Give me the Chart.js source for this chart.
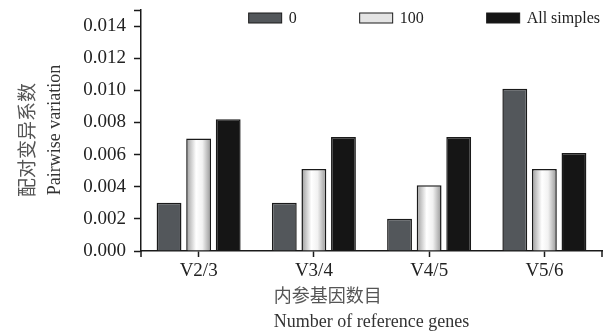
<!DOCTYPE html>
<html>
<head>
<meta charset="utf-8">
<script src="https://cdn.jsdelivr.net/npm/chart.js@4.4.1/dist/chart.umd.min.js"></script>
<style>
  html, body { margin: 0; padding: 0; background: #fff; }
  #wrap { width: 608px; height: 331px; position: relative; }
</style>
</head>
<body>
<div id="wrap"><canvas id="chart"></canvas></div>
<script>
  // Data
  const categories = ['V2/3', 'V3/4', 'V4/5', 'V5/6'];
  const seriesLabels = ['0', '100', 'All simples'];
  const values0 = [0.0030, 0.0030, 0.0020, 0.0101];
  const values100 = [0.0070, 0.0051, 0.0041, 0.0051];
  const valuesAll = [0.0082, 0.0071, 0.0071, 0.0061];
  const yMax = 0.015;
  const yTickValues = [0, 0.002, 0.004, 0.006, 0.008, 0.010, 0.012, 0.014, 0.015];
  const yTitle = ['配对变异系数', 'Pairwise variation'];
  const xTitle = ['内参基因数目', 'Number of reference genes'];

  const SERIF = '"Liberation Serif", "DejaVu Serif", serif';
  const CJK = '"Noto Sans CJK SC", sans-serif';
  const CAT_PCT = 0.77;
  const BAR_PCT = 0.84;

  // light cylinder-like shading for the "100" bars
  function whiteBarFill(ctx) {
    const chart = ctx.chart;
    const xs = chart.scales && chart.scales.x;
    if (!xs || ctx.dataIndex === undefined || !chart.chartArea) return '#ececec';
    const cx = xs.getPixelForValue(ctx.dataIndex);
    const w = xs.width / categories.length * CAT_PCT / 3 * BAR_PCT;
    const g = chart.ctx.createLinearGradient(cx - w / 2, 0, cx + w / 2, 0);
    g.addColorStop(0, '#9c9c9c');
    g.addColorStop(0.4, '#ffffff');
    g.addColorStop(0.65, '#f2f2f2');
    g.addColorStop(1, '#959595');
    return g;
  }

  const fills = ['#53575b', whiteBarFill, '#151515'];
  const legendFills = ['#53575b', '#e4e4e4', '#151515'];

  // legend + axis titles drawn by hand so they can sit where the figure has them
  const decorPlugin = {
    id: 'decor',
    afterDraw(chart) {
      const c = chart.ctx;
      const area = chart.chartArea;
      c.save();

      // end ticks on the x axis
      c.strokeStyle = '#1a1a1a';
      c.lineWidth = 1.5;
      c.beginPath();
      c.moveTo(area.left, area.bottom); c.lineTo(area.left, area.bottom + 6);
      c.moveTo(area.right, area.bottom); c.lineTo(area.right, area.bottom + 6);
      c.stroke();

      // legend
      c.font = '16px ' + SERIF;
      c.textBaseline = 'middle';
      const boxW = 33, boxH = 10, gap = 7, pad = 63;
      const widths = seriesLabels.map(t => boxW + gap + c.measureText(t).width);
      const total = widths.reduce((a, b) => a + b, 0) + pad * (widths.length - 1);
      let x = area.right - 2 - total;
      const y = 18;
      seriesLabels.forEach((t, i) => {
        c.fillStyle = legendFills[i];
        c.fillRect(x, y - boxH / 2, boxW, boxH);
        c.strokeStyle = '#1a1a1a';
        c.lineWidth = 1;
        c.strokeRect(x, y - boxH / 2, boxW, boxH);
        c.fillStyle = '#222';
        c.textAlign = 'left';
        c.fillText(t, x + boxW + gap, y + 1);
        x += widths[i] + pad;
      });

      // y title (rotated, two lines)
      c.save();
      c.translate(27, 140);
      c.rotate(-Math.PI / 2);
      c.textAlign = 'center';
      c.fillStyle = '#555';
      c.font = '19px ' + CJK;
      c.fillText(yTitle[0], 0, 0);
      c.restore();
      c.save();
      c.translate(55, 130);
      c.rotate(-Math.PI / 2);
      c.textAlign = 'center';
      c.fillStyle = '#333';
      c.font = '18px ' + SERIF;
      c.fillText(yTitle[1], 0, 0);
      c.restore();

      // x title (two lines, left edges lined up)
      c.font = '18px ' + SERIF;
      const enW = c.measureText(xTitle[1]).width;
      const cxm = (area.left + area.right) / 2;
      const left = cxm - enW / 2;
      c.textAlign = 'left';
      c.fillStyle = '#333';
      c.fillText(xTitle[1], left, 322);
      c.fillStyle = '#555';
      c.font = '18px ' + CJK;
      c.fillText(xTitle[0], left, 295);

      c.restore();
    }
  };

  const datasets = [values0, values100, valuesAll].map((vals, i) => ({
    label: seriesLabels[i],
    data: vals,
    backgroundColor: fills[i],
    borderColor: '#1a1a1a',
    borderWidth: 1.5,
    categoryPercentage: CAT_PCT,
    barPercentage: BAR_PCT
  }));

  new Chart(document.getElementById('chart'), {
    type: 'bar',
    data: { labels: categories, datasets: datasets },
    plugins: [decorPlugin],
    options: {
      responsive: true,
      maintainAspectRatio: false,
      animation: false,
      layout: { padding: { top: 10, right: 6, left: 0, bottom: 0 } },
      plugins: {
        legend: { display: false },
        tooltip: { enabled: false }
      },
      scales: {
        x: {
          grid: {
            display: true,
            drawOnChartArea: false,
            offset: false,
            tickLength: 6,
            tickColor: '#1a1a1a',
            tickWidth: 1.5
          },
          border: { color: '#1a1a1a', width: 1.5 },
          ticks: {
            color: '#222',
            padding: 3,
            font: { family: SERIF, size: 19 }
          },
          afterFit(scale) { scale.height = 80; }
        },
        y: {
          min: 0,
          max: yMax,
          grid: {
            drawOnChartArea: false,
            tickLength: 7,
            tickColor: '#1a1a1a',
            tickWidth: 1.5
          },
          border: { color: '#1a1a1a', width: 1.5 },
          ticks: {
            color: '#222',
            padding: 8,
            font: { family: SERIF, size: 19 },
            callback: v => (v > 0.0145 ? '' : Number(v).toFixed(3))
          },
          afterBuildTicks(scale) {
            scale.ticks = yTickValues.map(v => ({ value: v }));
          },
          afterFit(scale) {
            scale.width = 141;
            scale.paddingTop = 0;
          }
        }
      }
    }
  });
</script>
</body>
</html>
